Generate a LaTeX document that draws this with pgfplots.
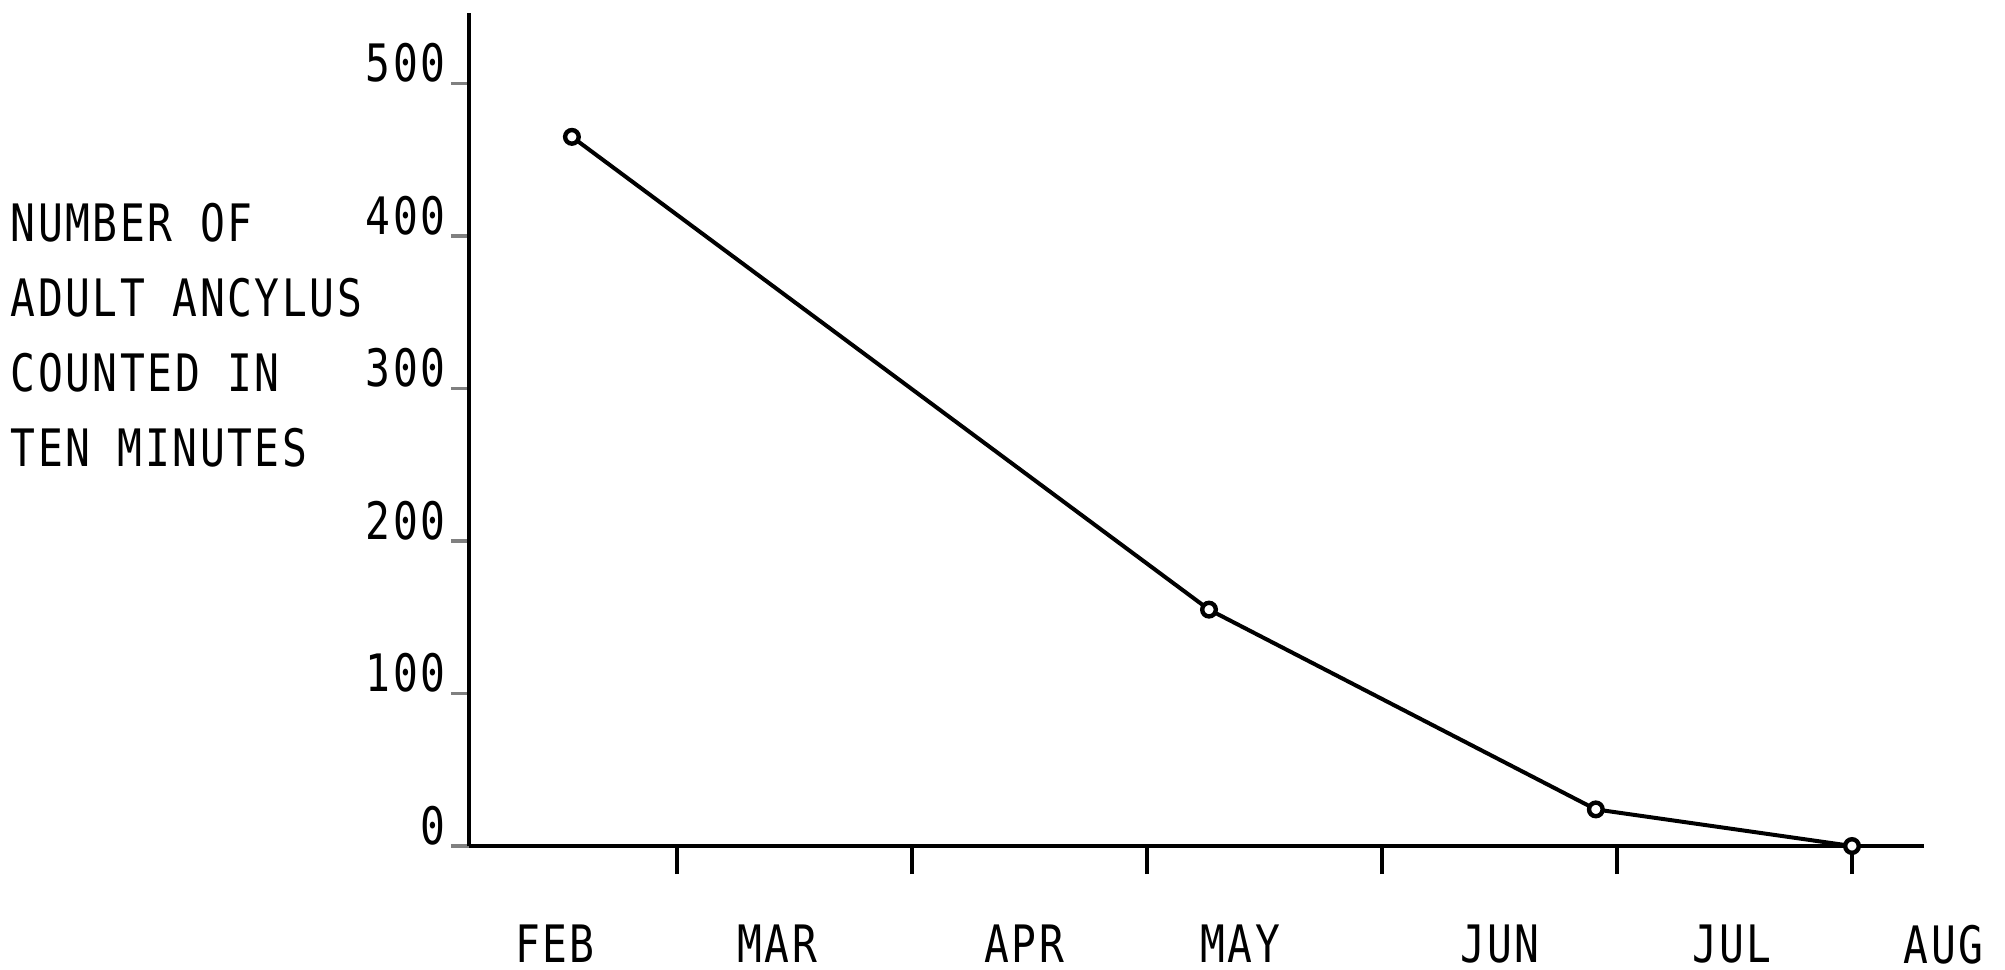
\documentclass[border=0pt]{standalone}
\usepackage{pgfplots}
\pgfplotsset{compat=1.18}
\usepackage{fontspec}
\setmainfont{DejaVu Sans Mono}[FakeStretch=0.8, LetterSpace=5]
\begin{document}
\begin{tikzpicture}
\begin{axis}[
  scale only axis,
  width=375.125pt, height=208.25pt,
  xmin=0.115, xmax=6.5, ymin=0, ymax=546.2,
  axis lines=left,
  axis line style={-, line width=1.05pt},
  x axis line style={shorten >=11.4pt},
  clip=false,
  font=\fontsize{12.9}{18.75}\selectfont,
  /pgf/number format/assume math mode=true,
  tick align=outside,
  major tick length=4.5pt,
  minor tick length=7pt,
  ytick={0,100,200,300,400,500},
  ytick style={line width=0.9pt},
  yticklabel style={anchor=south east, inner sep=0pt, xshift=-1.2pt},
  xtick={0.481,1.426,2.477,3.396,4.502,5.489,6.39},
  xticklabels={FEB,MAR,APR,MAY,JUN,JUL,AUG},
  minor xtick={1,2,3,4,5,6},
  major x tick style={draw=none},
  minor x tick style={draw=black, line width=0.9pt},
  xticklabel style={anchor=north, inner sep=0pt, yshift=-15pt},
]
\addplot[line width=1pt, mark=*, mark size=1.7pt,
  mark options={fill=white, line width=1.1pt}]
  coordinates {(0.553,465) (3.264,155) (4.91,24) (6.0,0)};
\node[anchor=north west, align=left, inner sep=0pt]
  at (rel axis cs:-0.306,0.773)
  {NUMBER OF\\ADULT ANCYLUS\\COUNTED IN\\TEN\ MINUTES};
\coordinate (bl) at (rel axis cs:-0.31256,-0.14766);
\coordinate (tr) at (rel axis cs:1.02366,1.01561);
\end{axis}
\pgfresetboundingbox
\path[use as bounding box] (bl) rectangle (tr);
\end{tikzpicture}
\end{document}
